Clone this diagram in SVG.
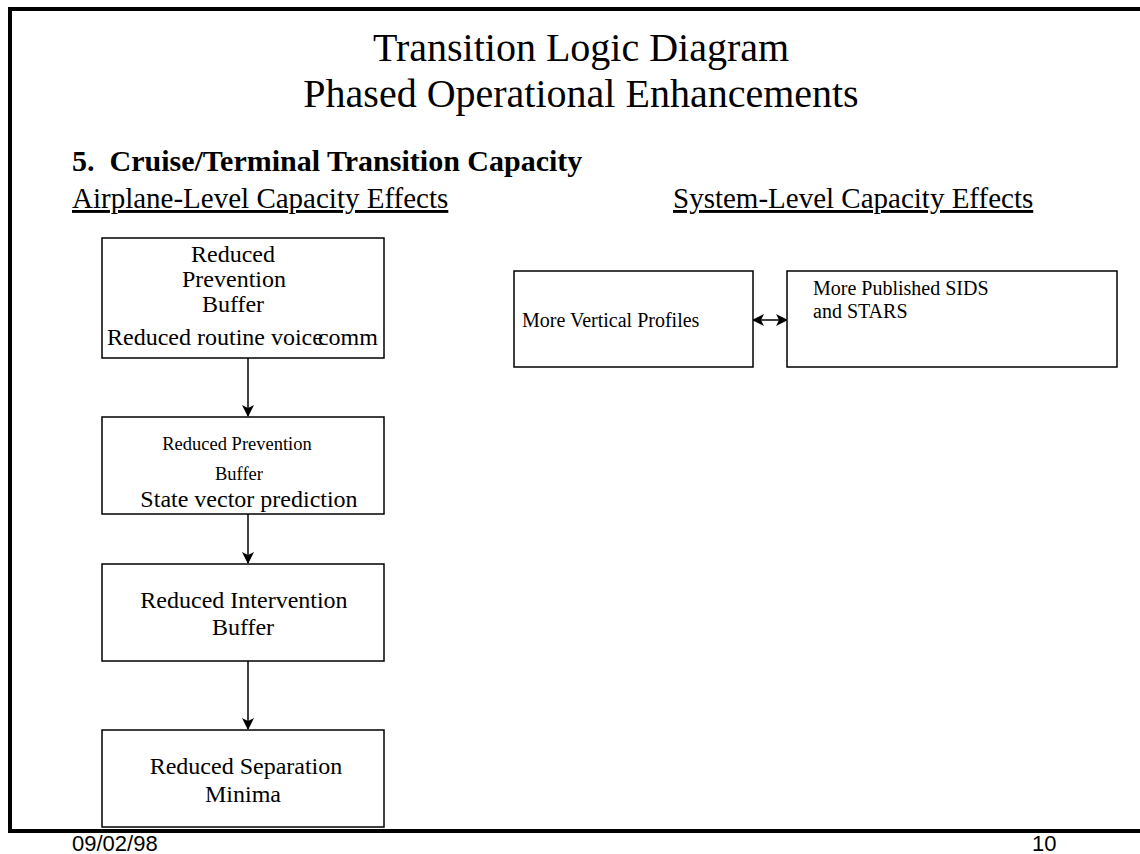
<svg xmlns="http://www.w3.org/2000/svg" width="1140" height="854" viewBox="0 0 1140 854">
<style>
.t{font-family:"Liberation Serif","Times New Roman",serif;fill:#000}
.f{font-family:"Liberation Sans",Arial,sans-serif;fill:#000;font-size:22px}
.box{fill:#fff;stroke:#000;stroke-width:1.5}
.ln{stroke:#000;stroke-width:1.5;fill:none}
.c{text-anchor:middle}
</style>
<defs>
<marker id="ah" viewBox="0 0 12 12" refX="11" refY="6" markerWidth="12" markerHeight="12" markerUnits="userSpaceOnUse" orient="auto-start-reverse">
<path d="M0,0 L12,6 L0,12 L3,6 Z" fill="#000"/>
</marker>
</defs>
<rect width="1140" height="854" fill="#fff"/>
<g id="frame" fill="none" stroke="#000" stroke-width="4">
<path d="M1140,9 H10 V831 H1140"/>
</g>
<g id="titles">
<text class="t c" x="581" y="61" font-size="40">Transition Logic Diagram</text>
<text class="t c" x="581" y="107" font-size="40">Phased Operational Enhancements</text>
<text class="t" x="72" y="171" font-size="30" font-weight="bold" xml:space="preserve">5.  Cruise/Terminal Transition Capacity</text>
<text class="t" x="72" y="208" font-size="29" text-decoration="underline">Airplane-Level Capacity Effects</text>
<text class="t" x="673" y="208" font-size="29" text-decoration="underline">System-Level Capacity Effects</text>
</g>
<g id="connectors">
<line class="ln" x1="248" y1="358" x2="248" y2="416" marker-end="url(#ah)"/>
<line class="ln" x1="248" y1="509" x2="248" y2="563" marker-end="url(#ah)"/>
<line class="ln" x1="248" y1="661" x2="248" y2="729" marker-end="url(#ah)"/>
<line class="ln" x1="753" y1="320" x2="787" y2="320" marker-start="url(#ah)" marker-end="url(#ah)"/>
</g>
<g id="n1">
<rect class="box" x="102" y="238" width="282" height="120"/>
<text class="t c" x="233" y="262" font-size="24">Reduced</text>
<text class="t c" x="234" y="287" font-size="24">Prevention</text>
<text class="t c" x="233" y="312" font-size="24">Buffer</text>
<text class="t" x="107" y="345" font-size="24">Reduced routine voice<tspan dx="-5">comm</tspan></text>
</g>
<g id="n2">
<rect class="box" x="102" y="417" width="282" height="97"/>
<text class="t c" x="237" y="450" font-size="18.5">Reduced Prevention</text>
<text class="t c" x="239" y="480" font-size="18.5">Buffer</text>
<text class="t c" x="249" y="507" font-size="24">State vector prediction</text>
</g>
<g id="n3">
<rect class="box" x="102" y="564" width="282" height="97"/>
<text class="t c" x="244" y="608" font-size="24">Reduced Intervention</text>
<text class="t c" x="243" y="635" font-size="24">Buffer</text>
</g>
<g id="n4">
<rect class="box" x="102" y="730" width="282" height="97"/>
<text class="t c" x="246" y="774" font-size="24">Reduced Separation</text>
<text class="t c" x="243" y="802" font-size="24">Minima</text>
</g>
<g id="n5">
<rect class="box" x="514" y="271" width="239" height="96"/>
<text class="t" x="522" y="327" font-size="20">More Vertical Profiles</text>
</g>
<g id="n6">
<rect class="box" x="787" y="271" width="330" height="96"/>
<text class="t" x="813" y="295" font-size="20">More Published SIDS</text>
<text class="t" x="813" y="318" font-size="20">and STARS</text>
</g>
<g id="footer">
<text class="f" x="72" y="851">09/02/98</text>
<text class="f" x="1032" y="851">10</text>
</g>
</svg>
